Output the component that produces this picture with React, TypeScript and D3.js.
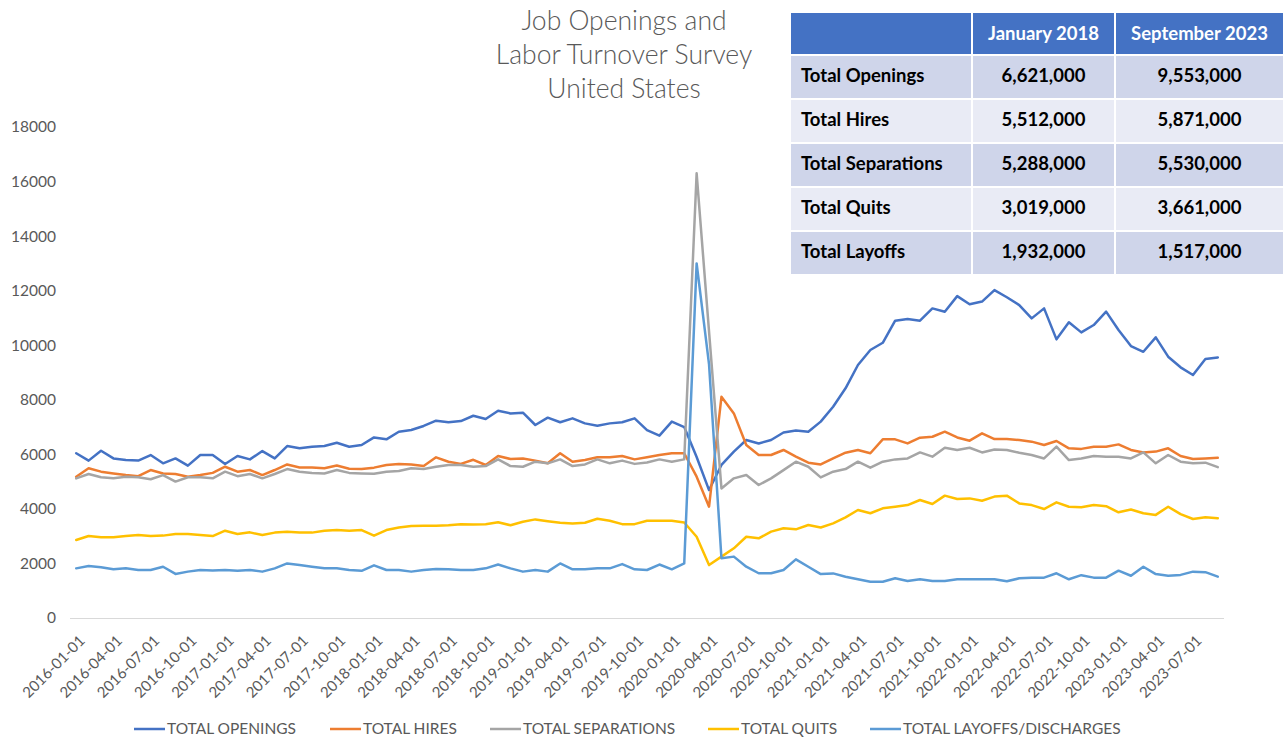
import React from 'react';
import * as d3 from 'd3';

// ---------- DATA ----------
const seriesNames = ['TOTAL OPENINGS', 'TOTAL HIRES', 'TOTAL SEPARATIONS', 'TOTAL QUITS', 'TOTAL LAYOFFS/DISCHARGES'];
const seriesColors = ['#4472C4', '#ED7D31', '#A5A5A5', '#FFC000', '#5B9BD5'];

// months 2016-01 .. 2023-09 (thousands)
const openings = [
  6040, 5770, 6130, 5850, 5790, 5770, 5975, 5670, 5850, 5585, 5975, 5975,
  5645, 5940, 5815, 6120, 5850, 6305, 6220, 6280, 6305, 6425, 6280, 6340,
  6621, 6550, 6830, 6890, 7040, 7235, 7175, 7220, 7415, 7295, 7600, 7500,
  7525, 7075, 7345, 7175, 7320, 7135, 7050, 7135, 7175, 7320, 6890, 6685,
  7200, 7000, 5900, 4690, 5610, 6100, 6525, 6400, 6525, 6800, 6870, 6830,
  7200, 7745, 8420, 9275, 9825, 10090, 10900, 10960, 10900, 11350, 11230, 11800,
  11500, 11600, 12020, 11760, 11470, 10985, 11350, 10215, 10840, 10470, 10740, 11230,
  10560, 9970, 9760, 10290, 9580, 9190, 8910, 9495, 9553,
];
const hires = [
  5180, 5490, 5365, 5300, 5240, 5200, 5425, 5300, 5280, 5180, 5240, 5320,
  5545, 5365, 5425, 5240, 5425, 5630, 5520, 5520, 5490, 5590, 5470, 5460,
  5512, 5610, 5650, 5630, 5570, 5890, 5730, 5650, 5800, 5610, 5940, 5830,
  5850, 5770, 5670, 6040, 5730, 5790, 5890, 5890, 5940, 5815, 5890, 5975,
  6040, 6040, 5180, 4080, 8110, 7500, 6340, 5975, 5975, 6160, 5915, 5695,
  5630, 5850, 6060, 6160, 6040, 6550, 6550, 6400, 6610, 6645, 6830, 6620,
  6500, 6770, 6560, 6560, 6525, 6465, 6340, 6490, 6220, 6200, 6280, 6280,
  6365, 6160, 6070, 6100, 6220, 5940, 5830, 5850, 5871,
];
const separations = [
  5120, 5280, 5160, 5120, 5180, 5160, 5085, 5240, 5000, 5160, 5160, 5120,
  5365, 5200, 5280, 5120, 5280, 5460, 5365, 5320, 5300, 5425, 5320, 5300,
  5288, 5365, 5390, 5490, 5460, 5545, 5610, 5610, 5545, 5570, 5815, 5570,
  5545, 5730, 5670, 5815, 5570, 5630, 5815, 5670, 5770, 5650, 5700, 5815,
  5730, 5815, 16300, 10500, 4750, 5120, 5240, 4875, 5120, 5420, 5730, 5545,
  5155, 5365, 5460, 5730, 5510, 5730, 5815, 5850, 6070, 5915, 6240, 6160,
  6240, 6070, 6180, 6160, 6060, 5975, 5850, 6280, 5790, 5850, 5940, 5915,
  5915, 5850, 6070, 5670, 5975, 5730, 5670, 5695, 5530,
];
const quits = [
  2860, 3005, 2960, 2960, 3005, 3040, 3005, 3020, 3080, 3080, 3040, 3005,
  3200, 3080, 3140, 3040, 3130, 3165, 3130, 3130, 3200, 3225, 3200, 3225,
  3019, 3225, 3320, 3370, 3385, 3385, 3400, 3440, 3430, 3440, 3510, 3400,
  3530, 3615, 3550, 3490, 3465, 3490, 3640, 3565, 3440, 3440, 3565, 3565,
  3565, 3500, 2980, 1940, 2250, 2555, 2980, 2920, 3165, 3290, 3250, 3410,
  3320, 3470, 3690, 3960, 3840, 4020, 4080, 4140, 4325, 4180, 4485, 4360,
  4385, 4300, 4450, 4485, 4200, 4140, 3995, 4240, 4080, 4060, 4140, 4100,
  3875, 3975, 3840, 3780, 4080, 3810, 3630, 3690, 3661,
];
const layoffs = [
  1820, 1905, 1860, 1785, 1820, 1760, 1760, 1880, 1615, 1700, 1760, 1740,
  1760, 1730, 1760, 1700, 1820, 2000, 1940, 1880, 1820, 1820, 1760, 1730,
  1932, 1760, 1760, 1700, 1760, 1795, 1785, 1760, 1760, 1820, 1960, 1820,
  1700, 1760, 1700, 2000, 1785, 1785, 1820, 1820, 1975, 1785, 1760, 1960,
  1785, 2000, 13000, 9300, 2190, 2250, 1880, 1640, 1640, 1760, 2150, 1880,
  1610, 1635, 1515, 1420, 1330, 1330, 1455, 1360, 1420, 1360, 1360, 1420,
  1420, 1420, 1420, 1345, 1455, 1480, 1480, 1640, 1420, 1570, 1480, 1480,
  1735, 1550, 1880, 1610, 1550, 1580, 1700, 1680, 1517,
];
const allSeries = [openings, hires, separations, quits, layoffs];

const categories: string[] = [];
for (let yr = 2016; yr <= 2023; yr++) {
  for (let m = 1; m <= 12; m++) {
    if (yr === 2023 && m > 9) break;
    categories.push(`${yr}-${String(m).padStart(2, '0')}-01`);
  }
}

const xTickLabels = [
  '2016-01-01', '2016-04-01', '2016-07-01', '2016-10-01',
  '2017-01-01', '2017-04-01', '2017-07-01', '2017-10-01',
  '2018-01-01', '2018-04-01', '2018-07-01', '2018-10-01',
  '2019-01-01', '2019-04-01', '2019-07-01', '2019-10-01',
  '2020-01-01', '2020-04-01', '2020-07-01', '2020-10-01',
  '2021-01-01', '2021-04-01', '2021-07-01', '2021-10-01',
  '2022-01-01', '2022-04-01', '2022-07-01', '2022-10-01',
  '2023-01-01', '2023-04-01', '2023-07-01',
];
const yTicks = [0, 2000, 4000, 6000, 8000, 10000, 12000, 14000, 16000, 18000];

const titleLines = ['Job Openings and', 'Labor Turnover Survey', 'United States'];

const tableHeader = ['', 'January 2018', 'September 2023'];
const tableRowLabels = ['Total Openings', 'Total Hires', 'Total Separations', 'Total Quits', 'Total Layoffs'];
const tableJan2018 = ['6,621,000', '5,512,000', '5,288,000', '3,019,000', '1,932,000'];
const tableSep2023 = ['9,553,000', '5,871,000', '5,530,000', '3,661,000', '1,517,000'];

// ---------- LAYOUT ----------
const W = 1283, H = 738;
const plotL = 70, plotR = 1224, plotT = 127, plotB = 618;
const FONT = "Lato, 'Open Sans', sans-serif";
const TXT = '#595959';

export default function App() {
  const x = d3.scaleBand<string>().domain(categories).range([plotL, plotR]).padding(0);
  const cx = (c: string) => (x(c) as number) + x.bandwidth() / 2;
  const y = d3.scaleLinear().domain([0, 18000]).range([plotB, plotT]);
  const line = d3.line<number>().x((_, i) => cx(categories[i])).y((d) => y(d));

  const tableCols = [790, 972, 1115, 1284];
  const tableRows = [12, 55, 99, 143, 187, 231, 275];
  const rowFills = ['#CFD5EA', '#E9EBF5'];

  const legendStarts = [134, 330, 490, 708, 870];

  return (
    <svg width={W} height={H} style={{ position: 'absolute', left: 0, top: 0, background: '#fff' }} fontFamily={FONT}>
      <rect x={0} y={0} width={W} height={H} fill="#fff" />
      {/* title */}
      {titleLines.map((t, i) => (
        <text key={t} x={624} y={30 + i * 34} textAnchor="middle" fontSize={26.5} fill={TXT} fontWeight={300}>{t}</text>
      ))}
      {/* y ticks */}
      {yTicks.map((t) => (
        <text key={t} x={56} y={y(t)} dy="0.35em" textAnchor="end" fontSize={15.5} fill={TXT}>{t}</text>
      ))}
      {/* x axis */}
      <line x1={plotL} x2={plotR} y1={plotB + 0.5} y2={plotB + 0.5} stroke="#D9D9D9" strokeWidth={1} />
      {xTickLabels.map((lab) => {
        const px = cx(lab);
        return (
          <text key={lab} transform={`translate(${px + 6},${plotB + 20}) rotate(-45)`} textAnchor="end" dy="0.35em" fontSize={15} fill={TXT}>{lab}</text>
        );
      })}
      {/* lines */}
      {allSeries.map((s, k) => (
        <path key={k} d={line(s) || ''} fill="none" stroke={seriesColors[k]} strokeWidth={2.5} strokeLinejoin="round" strokeLinecap="round" />
      ))}
      {/* legend */}
      {seriesNames.map((n, k) => (
        <g key={n}>
          <line x1={legendStarts[k]} x2={legendStarts[k] + 31} y1={729} y2={729} stroke={seriesColors[k]} strokeWidth={2.5} />
          <text x={legendStarts[k] + 33} y={729} dy="0.35em" fontSize={15.5} fill={TXT}>{n}</text>
        </g>
      ))}
      {/* table */}
      <g>
        {tableRows.slice(0, -1).map((ty, r) => (
          <g key={r}>
            {tableCols.slice(0, -1).map((tx, c) => (
              <rect key={c} x={tx} y={ty} width={tableCols[c + 1] - tx} height={tableRows[r + 1] - ty}
                fill={r === 0 ? '#4472C4' : rowFills[(r - 1) % 2]} stroke="#fff" strokeWidth={2} />
            ))}
          </g>
        ))}
        {tableHeader.map((h, c) => h && (
          <text key={h} x={(tableCols[c] + tableCols[c + 1]) / 2} y={(tableRows[0] + tableRows[1]) / 2} dy="0.35em"
            textAnchor="middle" fontSize={18.5} fontWeight={700} fill="#fff">{h}</text>
        ))}
        {tableRowLabels.map((lab, r) => {
          const yy = (tableRows[r + 1] + tableRows[r + 2]) / 2 - 1;
          return (
            <g key={lab}>
              <text x={801} y={yy} dy="0.35em" fontSize={18.5} fontWeight={700} fill="#000">{lab}</text>
              <text x={(tableCols[1] + tableCols[2]) / 2} y={yy} dy="0.35em" textAnchor="middle" fontSize={18.5} fontWeight={700} fill="#000">{tableJan2018[r]}</text>
              <text x={(tableCols[2] + tableCols[3]) / 2} y={yy} dy="0.35em" textAnchor="middle" fontSize={18.5} fontWeight={700} fill="#000">{tableSep2023[r]}</text>
            </g>
          );
        })}
      </g>
    </svg>
  );
}
